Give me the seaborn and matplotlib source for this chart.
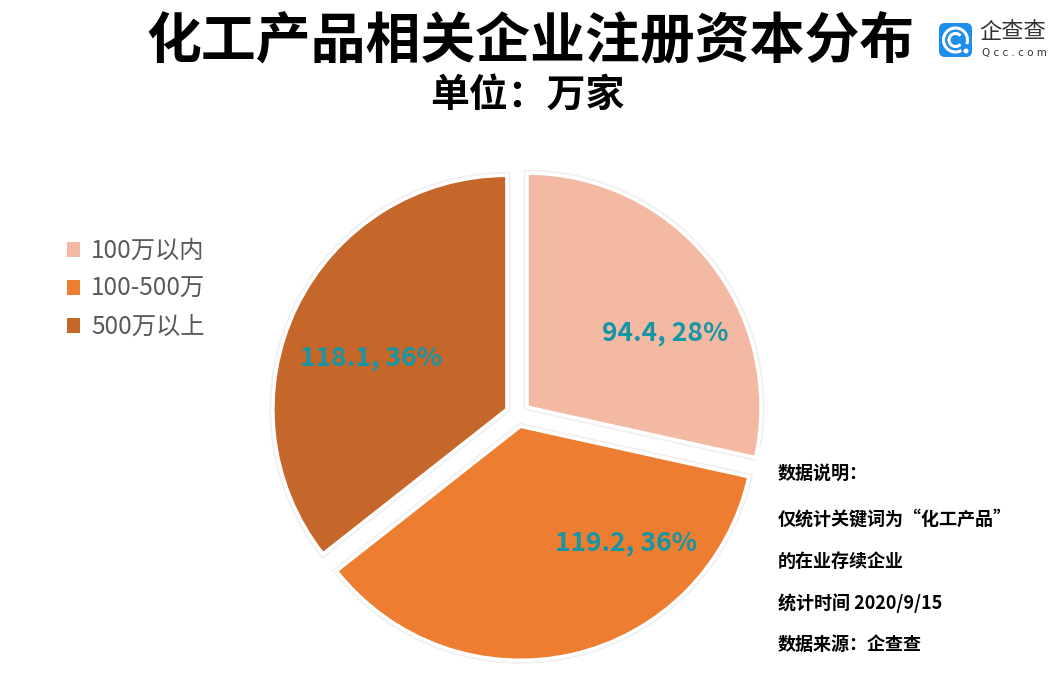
import numpy as np
import matplotlib
matplotlib.use("Agg")
import matplotlib.pyplot as plt
import seaborn as sns
from matplotlib.patches import FancyBboxPatch, Rectangle, Arc, Circle
import matplotlib.patheffects as pe

# ---- data ----
categories = ["100万以内", "100-500万", "500万以上"]
values = [94.4, 119.2, 118.1]
title = "化工产品相关企业注册资本分布"
subtitle = "单位：万家"
notes = ["数据说明：", "仅统计关键词为“化工产品”", "的在业存续企业", "统计时间 2020/9/15", "数据来源：企查查"]

# ---- style ----
colors = ["#F4B9A3", "#ED7D31", "#C5662A"]
label_color = "#1596A6"
label_angle_shift = [-10.5, 29.4, 5.0]
label_radius = [0.67, 0.67, 0.62]

sns.set_theme(style="white")
plt.rcParams['font.family'] = ['Noto Sans CJK SC', 'DejaVu Sans']

W, H = 1062, 682
fig = plt.figure(figsize=(W / 100, H / 100), dpi=100)
ax = fig.add_axes([0, 0, 1, 1])
ax.set_xlim(0, W)
ax.set_ylim(0, H)
ax.set_aspect('equal')
ax.axis('off')

cx, cy, R = 517.7, H - 414.6, 234
explode = [12] * 3
wedges, _ = ax.pie(values, colors=colors, startangle=90, counterclock=False,
                   center=(cx, cy), radius=R, explode=explode, frame=True,
                   wedgeprops=dict(edgecolor="white", linewidth=2.5))
for w in wedges:
    w.set_path_effects([pe.Stroke(linewidth=5, foreground="#F0F0F0"), pe.Normal()])
ax.set_xlim(0, W)
ax.set_ylim(0, H)
ax.axis('off')

total = sum(values)
for w, v, sh, rf in zip(wedges, values, label_angle_shift, label_radius):
    mid = np.deg2rad((w.theta1 + w.theta2) / 2 + sh)
    x0, y0 = w.center
    ax.text(x0 + rf * R * np.cos(mid), y0 + rf * R * np.sin(mid),
            f"{v}, {round(v / total * 100)}%", ha="center", va="center",
            color=label_color, fontsize=19, fontweight="bold")

# notes box (white, covering pie edge)
ax.add_patch(Rectangle((757, H - 672), 290, 672 - 447, facecolor="white",
                       edgecolor="none", zorder=5))
note_y = [473, 519, 561, 603, 644]
for t, yy in zip(notes, note_y):
    ax.text(778, H - yy, t, ha="left", va="center", fontsize=13,
            fontweight="bold", color="black", zorder=6)

# titles
fig.text(531 / W, 1 - 42 / H, title, ha="center", va="center",
         fontsize=39.5, fontweight="bold", color="black")
fig.text(527 / W, 1 - 95 / H, subtitle, ha="center", va="center",
         fontsize=28, fontweight="bold", color="black")

# legend
leg = ax.legend(wedges, categories, loc="upper left",
                bbox_to_anchor=(45 / W, 1 - 216 / H), frameon=False,
                fontsize=17.5, handlelength=0.55, handleheight=0.55,
                handletextpad=0.45, labelspacing=0.5, labelcolor="#595959")
for h in leg.legend_handles:
    h.set_path_effects([])
    h.set_edgecolor("none")

# logo
ax.add_patch(FancyBboxPatch((939, H - 57), 33, 34, boxstyle="round,pad=0,rounding_size=6",
                            facecolor="#1F8DEB", edgecolor="none", zorder=7))
ax.add_patch(Arc((955.5, H - 40), 24, 24, theta1=-20, theta2=300,
                 color="white", linewidth=2.2, zorder=8))
ax.add_patch(Arc((955.5, H - 40), 13, 13, theta1=40, theta2=320,
                 color="white", linewidth=2.2, zorder=8))
ax.add_patch(Circle((966, H - 51), 1.8, color="white", zorder=8))
ax.text(1013, H - 32, "企查查", ha="center", va="center", fontsize=16,
        color="#333333", zorder=8)
ax.text(1014, H - 53, "Q c c . c o m", ha="center", va="center", fontsize=7.5,
        color="#333333", zorder=8, fontfamily="DejaVu Sans")

fig.savefig("out.png", dpi=100, facecolor="white")
